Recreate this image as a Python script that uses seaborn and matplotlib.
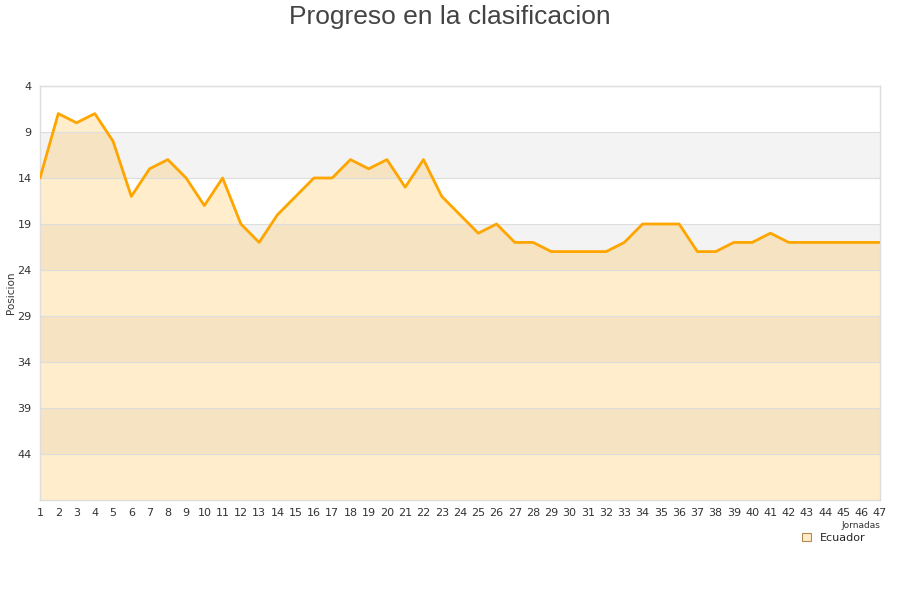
import matplotlib
matplotlib.use("Agg")
import matplotlib.pyplot as plt
import seaborn as sns
import pandas as pd
from matplotlib.patches import Patch

# Progreso de Ecuador jornada a jornada
jornadas = list(range(1, 48))
posiciones = [14, 7, 8, 7, 10, 16, 13, 12, 14, 17,
              14, 19, 21, 18, 16, 14, 14, 12, 13, 12,
              15, 12, 16, 18, 20, 19, 21, 21, 22, 22,
              22, 22, 21, 19, 19, 19, 22, 22, 21, 21,
              20, 21, 21, 21, 21, 21, 21]
y_ticks = [4, 9, 14, 19, 24, 29, 34, 39, 44]
equipo = "Ecuador"

df = pd.DataFrame({"jornada": jornadas, "posicion": posiciones})

sns.set_theme(style="white")
plt.rcParams['font.family'] = ['DejaVu Sans']

fig = plt.figure(figsize=(9, 6), dpi=100)
ax = fig.add_axes([40 / 900, 100 / 600, 840 / 900, 414 / 600])

# alternating horizontal bands
for lo in [9, 19, 29, 39]:
    ax.axhspan(lo, lo + 5, color="#f3f3f3", zorder=0, lw=0)

ax.fill_between(df["jornada"], df["posicion"], 49, color="#ffa500", alpha=0.2, lw=0, zorder=1)
sns.lineplot(data=df, x="jornada", y="posicion", ax=ax, color="#ffa500", lw=2, zorder=3)

ax.set_xlim(1, 47)
ax.set_ylim(49, 4)
ax.set_yticks(y_ticks)
ax.set_xticks(jornadas)
ax.tick_params(axis="both", labelsize=8, colors="#333333", length=0, pad=6)
ax.yaxis.grid(True, color="#dddddd", lw=0.8, zorder=2)
ax.set_axisbelow(False)
for s in ax.spines.values():
    s.set_color("#dddddd")
    s.set_linewidth(1)

ax.set_xlabel("")
ax.set_ylabel("")
fig.text(11 / 900, 1 - 293 / 600, "Posicion", rotation=90, ha="center", va="center",
         fontsize=7.5, color="#333333")
fig.text(0.5, 1 - 5 / 600, "Progreso en la clasificacion", ha="center", va="top",
         fontsize=19, color="#444444", family=["Liberation Sans", "DejaVu Sans"])

# x axis label sits just above the legend at the right
fig.text(880 / 900, 1 - 525 / 600, "Jornadas", ha="right", va="center", fontsize=6.5, color="#333333")
handle = Patch(facecolor="#ffecc8", edgecolor="#b08a50", lw=0.8, label=equipo)
leg = fig.legend(handles=[handle], loc="center right", bbox_to_anchor=(868 / 900, 1 - 538 / 600),
                 frameon=False, fontsize=8, handlelength=0.8, handleheight=0.8,
                 borderpad=0.2, handletextpad=0.8, borderaxespad=0)

fig.savefig("out.png", dpi=100)
